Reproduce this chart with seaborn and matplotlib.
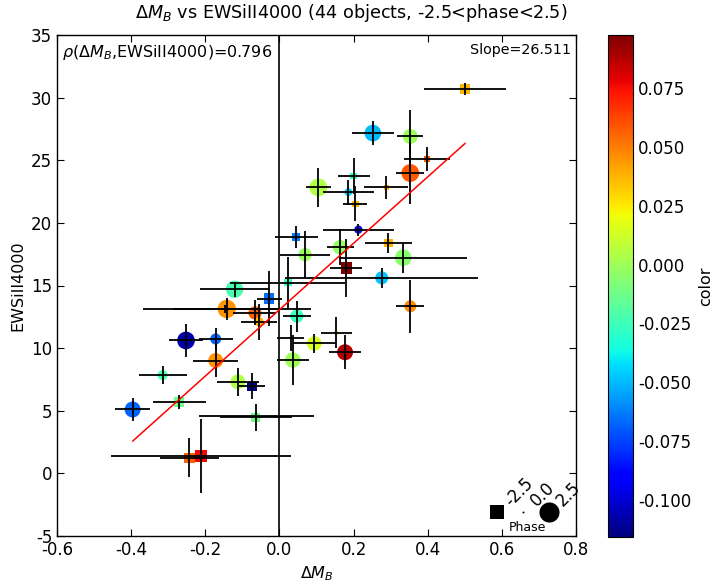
import numpy as np
import pandas as pd
import matplotlib
matplotlib.use("Agg")
import matplotlib.pyplot as plt
import seaborn as sns

# delta M_B, EWSiII4000 and their errors, phase, colour value
dmb = [0.501, 0.252, 0.353, 0.398, 0.353, 0.105, 0.200, 0.186, 0.288, 0.204,
       0.213, 0.045, 0.164, 0.294, 0.069, 0.334, 0.180, 0.276, 0.023, 0.353,
       -0.027, 0.047, 0.094, 0.153, 0.177, 0.036, 0.030, -0.121, -0.142, -0.147,
       -0.066, -0.055, -0.252, -0.172, -0.172, -0.315, -0.112, -0.074, -0.396, -0.270,
       -0.062, -0.064, -0.243, -0.211]
ews = [30.68, 27.17, 26.90, 25.12, 23.98, 22.83, 23.74, 22.46, 22.83, 21.51,
       19.46, 18.88, 18.05, 18.40, 17.46, 17.22, 16.40, 15.61, 15.21, 13.34,
       13.96, 12.56, 10.37, 11.22, 9.67, 9.05, 10.82, 14.70, 13.13, 13.13,
       12.81, 12.11, 10.61, 10.73, 9.01, 7.84, 7.31, 6.96, 5.10, 5.72,
       4.57, 4.47, 1.25, 1.38]
dmb_err = [0.110, 0.056, 0.035, 0.062, 0.038, 0.033, 0.043, 0.068, 0.060, 0.033,
           0.095, 0.058, 0.036, 0.063, 0.067, 0.172, 0.043, 0.260, 0.155, 0.038,
           0.034, 0.038, 0.058, 0.042, 0.042, 0.043, 0.036, 0.092, 0.226, 0.140,
           0.058, 0.048, 0.047, 0.046, 0.061, 0.065, 0.057, 0.036, 0.048, 0.071,
           0.154, 0.097, 0.079, 0.242]
ews_err = [0.50, 0.97, 2.10, 0.95, 2.50, 1.57, 1.44, 1.00, 0.90, 1.40,
           0.47, 0.85, 1.45, 0.80, 1.86, 1.20, 2.29, 0.80, 2.05, 2.13,
           2.23, 1.24, 0.77, 1.24, 1.35, 2.00, 1.05, 0.60, 0.90, 0.30,
           1.00, 1.45, 1.35, 0.85, 1.30, 0.73, 1.10, 1.04, 0.90, 0.56,
           0.30, 1.05, 1.57, 2.98]
phase = [-1.10, 1.74, 1.40, -0.50, 2.00, 2.00, -0.50, 0.40, -0.30, -0.60,
         0.43, -0.90, 1.35, -0.96, 1.10, 1.74, -1.60, 1.06, -0.65, 0.90,
         -1.27, 1.10, 1.35, 0.10, 1.60, 1.46, 0.02, 1.87, 2.10, 0.02,
         1.10, 0.55, 1.96, 0.76, 1.40, 0.63, 1.40, -1.10, 1.60, -1.20,
         0.02, -0.90, -1.35, -1.70]
color = [0.037, -0.050, 0.000, 0.058, 0.058, 0.005, -0.030, -0.045, 0.038, 0.036,
         -0.088, -0.063, -0.003, 0.037, -0.002, -0.005, 0.0975, -0.048, -0.028, 0.046,
         -0.066, -0.026, 0.015, 0.040, 0.088, 0.000, 0.000, -0.022, 0.045, 0.045,
         0.056, 0.036, -0.108, -0.068, 0.045, -0.022, 0.005, -0.1157, -0.068, -0.012,
         0.000, -0.012, 0.056, 0.076]

fit_slope = 26.511
fit_intercept = 13.07
rho = 0.796

legend_phases = [-2.5, 0.0, 2.5]

df = pd.DataFrame({"dmb": dmb, "ews": ews, "phase": phase, "color": color})
df["shape"] = np.where(df.phase < 0, "neg", "pos")
df["msize"] = df.phase.abs() * np.where(df.phase < 0, 0.5, 1.0)

sns.set_style("ticks", {"xtick.direction": "in", "ytick.direction": "in"})
plt.rcParams["font.family"] = ["DejaVu Sans"]
plt.rcParams["axes.unicode_minus"] = False
for key in ["text.color", "axes.labelcolor", "xtick.color", "ytick.color", "axes.edgecolor"]:
    plt.rcParams[key] = "black"

fig = plt.figure(figsize=(7.14, 5.86), dpi=100)
ax = fig.add_axes([57 / 714, 50 / 586, 519 / 714, 501 / 586])
cax = fig.add_axes([608 / 714, 49 / 586, 25 / 714, 502 / 586])

jet = plt.get_cmap("jet")
vmin, vmax = min(color), max(color)
smax = 207

ax.axvline(0, color="k", lw=1.2, zorder=1)
sns.scatterplot(data=df, x="dmb", y="ews", hue="color", palette=jet,
                hue_norm=(vmin, vmax), size="msize", sizes=(0, smax),
                size_norm=(0, 2.5), style="shape", markers={"neg": "s", "pos": "o"},
                linewidth=0, legend=False, ax=ax, zorder=3)
ax.errorbar(dmb, ews, xerr=dmb_err, yerr=ews_err, fmt="none", ecolor="k",
            elinewidth=1.3, capsize=0, zorder=4)

xs = np.array([min(dmb), max(dmb)])
ax.plot(xs, fit_slope * xs + fit_intercept, color="red", lw=1.1, zorder=5)

ax.set_xlim(-0.6, 0.8)
ax.set_ylim(-5, 35)
ax.set_xticks(np.arange(-0.6, 0.81, 0.2))
ax.set_yticks(np.arange(-5, 36, 5))
ax.tick_params(top=True, right=True, labelsize=12, length=5, width=0.8)
for sp in ax.spines.values():
    sp.set_color("k")
    sp.set_linewidth(1.0)
ax.set_xlabel(r"$\Delta M_B$", fontsize=11.5)
ax.set_ylabel("EWSiII4000", fontsize=11.5)
fig.suptitle(r"$\Delta M_B$ vs EWSiII4000 (44 objects, -2.5<phase<2.5)",
             x=0.492, y=0.978, va="center", fontsize=12.7)
ax.text(0.01, 0.985, r"$\rho(\Delta M_B$,EWSiII4000)=%.3f" % rho,
        transform=ax.transAxes, ha="left", va="top", fontsize=11.5)
ax.text(0.99, 0.985, "Slope=%.3f" % fit_slope, transform=ax.transAxes,
        ha="right", va="top", fontsize=10.3)

# phase size key
for xa, ph in zip([0.848, 0.898, 0.948], legend_phases):
    mk = "s" if ph < 0 else "o"
    ss = abs(ph) / 2.5 * smax * (0.5 if ph < 0 else 1.0) + 2
    ax.scatter([xa], [0.048], transform=ax.transAxes, s=ss, c="k", marker=mk,
               linewidth=0, clip_on=False, zorder=6)
    ax.text(xa + 0.032, 0.053, "%.1f" % ph, transform=ax.transAxes, rotation=45,
            ha="left", va="bottom", fontsize=12, rotation_mode="anchor")
ax.text(0.907, 0.016, "Phase", transform=ax.transAxes, ha="center", va="center",
        fontsize=9)

sm = plt.cm.ScalarMappable(norm=plt.Normalize(vmin, vmax), cmap=jet)
cb = fig.colorbar(sm, cax=cax)
cb.set_ticks([-0.1, -0.075, -0.05, -0.025, 0.0, 0.025, 0.05, 0.075])
cb.ax.set_yticklabels(["%.3f" % t for t in cb.get_ticks()])
cb.ax.tick_params(labelsize=12, direction="in", length=5)
cb.outline.set_edgecolor("k")
cb.set_label("color", fontsize=11.5, labelpad=5)

fig.savefig("out.png", dpi=100)
